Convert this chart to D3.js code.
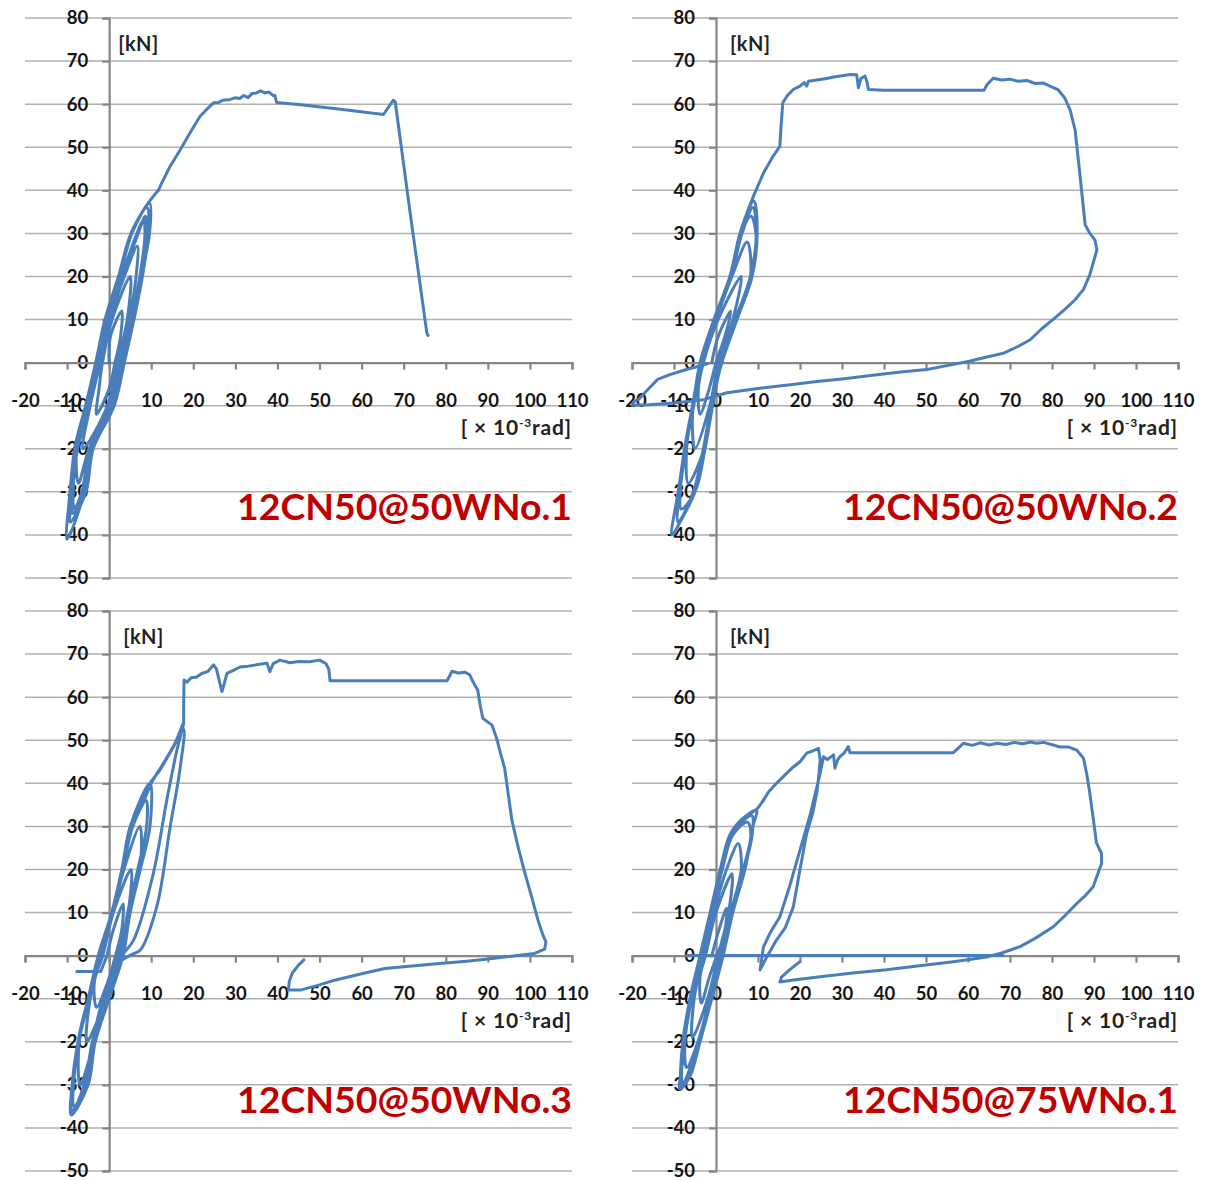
<!DOCTYPE html>
<html>
<head>
<meta charset="utf-8">
<script src="https://cdn.jsdelivr.net/npm/d3@7"></script>
<style>
body { margin: 0; background: #fff; }
svg { display: block; font-family: Lato, "Open Sans", sans-serif; }
</style>
</head>
<body>
<div id="chart"></div>
<script>
// axis ticks (rotation x 10^-3 rad, load kN)
var xTicks = [-20, -10, 0, 10, 20, 30, 40, 50, 60, 70, 80, 90, 100, 110];
var yTicks = [-50, -40, -30, -20, -10, 0, 10, 20, 30, 40, 50, 60, 70, 80];

var titles = ["12CN50@50WNo.1", "12CN50@50WNo.2", "12CN50@50WNo.3", "12CN50@75WNo.1"];

// 12CN50@50WNo.1  [rotation, load] - small cycles, then skeleton
var loopA = [
  [0,0],[0.3,6],[3,12],[2.7,6],[1.4,0],[0,-6],[-3,-12],
  [-2.4,-6],[-1.6,0],[0.7,10],[5,20],[4.3,10],[2,0],[-0.4,-10],[-6.2,-20],
  [-4.5,-10],[-2.1,0],[0.2,10],[3.6,20],[6.7,27],[6.4,20],[4.8,10],[2.5,0],[0.1,-10],[-4.8,-20],[-7.3,-28],
  [-7.7,-20],[-4.9,-10],[-2.5,0],[-0.2,10],[3,20],[6.6,30],[8.1,33],[8.5,30],[7.3,20],[5.2,10],[2.9,0],[0.5,-10],[-4.5,-20],[-6.5,-30],[-8.3,-34],
  [-8.5,-28],[-7.5,-20],[-4.6,-10],[-2.2,0],[0.1,10],[3.3,20],[6.9,30],[8.6,34],[9,30],[7.6,20],[5.6,10],[3.3,0],[0.9,-10],[-4.2,-20],[-6.2,-30],[-8.6,-35],
  [-9,-30],[-8.2,-20],[-5.6,-10],[-3.2,0],[-1,10],[2.2,20],[5.2,30],[9,36],[9.3,30],[7.9,20],[5.9,10],[3.6,0],[1.2,-10],[-3.8,-20],[-5.5,-30],[-9.2,-37],
  [-8.7,-30],[-7.9,-20],[-5.2,-10],[-2.8,0],[-0.5,10],[2.6,20],[5.4,30],[9.6,37],[9.6,30],[7.6,20],[5.5,10],[3.2,0],[0.8,-10],[-4.4,-20],[-5.9,-30],[-10,-41],
  [-9.3,-30],[-8.1,-20],[-5,-10],[-3,0],[0,10],[2.6,20],[5.2,30],[8.2,35.5],[10.5,38.6],[11.7,40]
];
var mainA = [
  [11.7,40],[12.5,41.7],[14.5,45.6],[16.9,49.4],[19.2,53.3],[21.6,57.2],[23,58.6],[24.8,60.3],[26,60.4],[27,60.9],[28.5,61],[30,61.5],[31,61.3],
  [32,62],[33,61.5],[34,62.5],[35,62.6],[36,63.1],[37,62.6],[38,62.8],[39,62],[39.4,62],[39.8,60.4],
  [45,59.9],[55,58.8],[65.2,57.6],[67.5,60.9],[68,60.5],[71.5,35],[75.5,6.9],[75.8,6.3]
];

// 12CN50@50WNo.2
var loopB = [
  [-1,0],[0.5,6],[3.5,12],[2.1,6],[0,0],[-1.6,-6],[-3.8,-12],
  [-4.2,-6],[-3,0],[0.5,10],[6,20],[4,10],[0.6,0],[-1.5,-10],[-5,-20],
  [-5.5,-10],[-3.4,0],[0,10],[3.8,20],[7.4,28],[8.2,20],[4.5,10],[1,0],[-1,-10],[-2.8,-20],[-6.6,-28],
  [-7,-20],[-5.5,-10],[-3.7,0],[-0.3,10],[3.5,20],[6,30],[8.3,34],[9.5,30],[8.5,20],[4.8,10],[1.3,0],[-0.8,-10],[-2.6,-20],[-5,-30],[-8.3,-34],
  [-8.5,-30],[-7.2,-20],[-5.3,-10],[-3.5,0],[-0.2,10],[3.6,20],[6.2,30],[8.8,36],
  [9.6,30],[8.2,20],[4.6,10],[1.1,0],[-1.2,-10],[-3,-20],[-5.4,-30],[-9,-37],
  [-8.8,-30],[-7.5,-20],[-5.6,-10],[-3.6,0],[-0.4,10],[3.4,20],[5.9,30],[9,37.5],
  [9.8,30],[8.6,20],[5,10],[1.4,0],[-1,-10],[-2.6,-20],[-5,-30],[-8,-36],[-10.5,-40],
  [-9,-30],[-7.4,-20],[-5.5,-10],[-3.8,0],[-0.5,10],[3.3,20],[5.7,30],[8.9,38.6]
];
var mainB = [
  [8.9,38.6],[11.3,44],[13.6,47.9],[15.2,50.2],[15.5,55],[15.9,60.3],[17,62],[18.4,63.4],[20,64.2],[21,65],[21.6,64.2],[22,65.3],[24,65.6],[26,65.9],
  [28,66.3],[30,66.6],[32,66.9],[33.5,66.8],[33.9,63.8],[34.5,66],[35.5,66.5],[36,65],[36.3,63.4],[40,63.2],[50,63.2],[63.8,63.2],
  [64.5,64.5],[66,66],[68,65.6],[70,65.8],[72,65.3],[74,65.5],[76,64.8],[78,64.9],[79.5,64.2],[81.4,63.4],[83,61.5],[84.3,58.7],
  [85.5,54],[86.5,45],[87.9,32],[89,30],[90.2,28.5],[90.7,26.2],
  [89,20.4],[87.5,17],[85.5,14.6],[83,12.3],[80.7,10.4],[77.5,7.8],[74.8,5.3],[72,3.8],[68.5,2.2],[64,1.2],[60.3,0.3],[55,-0.7],
  [50.2,-1.6],[44,-2.2],[38.3,-2.8],[30,-3.8],[24,-4.4],[18.2,-5.1],[10,-6],[2.6,-7],[-3,-8.6],[-10,-9.4],[-16,-9.8],[-20,-9.9],
  [-19.5,-9],[-18.5,-8.6],[-16,-6],[-13.9,-3.9],[-11,-2.8],[-8.4,-2],[-6,-1.3],[-3.8,-0.8],[-2,-0.2]
];

// 12CN50@50WNo.3
var startC = [[-7.7,-3.7],[-2,-3.7],[-0.5,0]];
var loopC = [
  [-0.5,0],[1,6],[3.3,12],[3,6],[1.5,0],[-0.3,-6],[-3,-12],
  [-3.5,-6],[-1.5,0],[1,10],[5.2,20],[4.5,10],[2,0],[-0.8,-10],[-5.3,-20],
  [-4.5,-10],[-2,0],[0.8,10],[3.5,20],[7.3,30],[7.3,20],[4.6,10],[2.8,0],[-0.2,-10],[-3.5,-20],[-6.9,-30],
  [-7.1,-20],[-4.7,-10],[-2.3,0],[0.9,10],[3.3,20],[5.6,30],[8.8,36],[8.9,30],[6.8,20],[4.4,10],[2.6,0],[-0.6,-10],[-3.8,-20],[-5.6,-30],[-8.3,-35],
  [-7.4,-20],[-5,-10],[-2.6,0],[0.6,10],[3,20],[5,30],[9.7,40],[9.7,30],[7.4,20],[5,10],[3.3,0],[0,-10],[-3.3,-20],[-5,-30],[-9,-37],
  [-8.8,-30],[-7.4,-20],[-5,-10],[-2.6,0],[0.6,10],[3,20],[5,30],[8,36],[9.7,40],[12,43],[15.3,48.5],[17.7,52.5],
  [16.9,43.8],[14.5,29.9],[11.3,11.3],[7.4,1.3],[5,0.1],[2,-2],[-1,-10],[-3.5,-20],[-5.5,-30],[-8.8,-36],
  [-8.6,-30],[-7.2,-20],[-4.8,-10],[-2.4,0],[0.8,10],[3.2,20],[5.3,30],[8.3,36],[10,40],[12.5,44],[15.5,49],[17.7,54],
  [16.1,47.7],[13.7,36.1],[10.5,19.1],[5.8,3.6],[3.4,0.5],[1,-3],[-1.5,-10],[-4,-20],[-6,-30],[-9,-37],
  [-8.8,-30],[-7.4,-20],[-5,-10],[-2.6,0],[0.6,10],[3,20],[5,30],[8,36],[10,40],[12.5,44],[15.5,49],[17.7,54]
];
var mainC = [
  [17.7,54],[17.7,58],[17.8,64],
  [18.5,63.5],[19.5,64.5],[20.8,64.7],[22,65.5],[23.5,66],[24.8,67.5],[25.5,66.5],[26.8,61.3],[27.3,63],[28,65.5],[29.5,66.2],
  [31.1,67],[33,67.2],[35,67.5],[37.5,67.9],[38.2,65.9],[39,67.8],[40.6,68.6],[43,68],[45,68.3],[47.7,68.2],[50,68.6],[51.5,67.8],
  [52.2,66.5],[52.5,63.8],[60,63.8],[70,63.8],[80.3,63.8],[81.5,66],[83,65.6],[84.5,65.8],[85.7,65.2],[86.5,63.5],[87.6,61.6],
  [88.2,58],[88.8,55.1],[90,54.2],[91,53.5],[92.2,50.1],[93,47],[94,43.5],[95.7,31.5],[97,26],[98.6,19.9],[100.3,14],[101.9,8.3],
  [103,5],[103.8,3.2],[103.5,1.5],[101.1,0.5],[95,-0.2],[90,-0.8],[85,-1.3],[79.2,-1.8],[72,-2.4],[65.5,-3],[60,-4.2],[53.6,-5.7],
  [50,-6.8],[45.4,-8],[42.6,-8],[42.8,-6],[43.5,-4.1],[45,-2.2],[46.3,-1]
];

// 12CN50@75WNo.1
var loopD = [
  [-1,0],[0.4,5],[2.5,11],[2,5],[0.2,0],[-1.6,-5],[-3.5,-11],
  [-3.8,-5],[-2.5,0],[0,10],[3.8,19],[3,10],[0.5,0],[-2,-10],[-5.6,-19],
  [-5.2,-10],[-3,0],[-0.5,10],[2.5,20],[5.3,26],[6,20],[3.5,10],[1.2,0],[-1.5,-10],[-4.3,-20],[-7,-26],
  [-7.4,-20],[-5.8,-10],[-3.5,0],[-1,10],[1.5,20],[4,28],[7.5,31],[8.3,28],[6.5,20],[3.8,10],[1.5,0],[-1.2,-10],[-4,-20],[-6.5,-27],[-8,-30],
  [-7.7,-20],[-6,-10],[-3.6,0],[-1.2,10],[1.3,20],[3.6,28],[8.5,32.5],[8.6,28],[6.7,20],[3.9,10],[1.6,0],[-1.1,-10],[-3.9,-20],[-6.3,-27],[-8.3,-30.5],
  [-7.9,-20],[-6.2,-10],[-3.8,0],[-1.4,10],[1,20],[3.3,28],[6,31.5],[9.7,33.8],
  [8.8,30],[6.9,20],[4,10],[1.7,0],[-1,-10],[-3.8,-20],[-6.2,-28],[-8.6,-31],
  [-8,-25],[-7.5,-20],[-5.9,-10],[-3.4,0],[-1,10],[1.5,20],[3.8,28],[6.5,31.8],[9.7,34],[11.3,36.1]
];
var mainD = [
  [11.3,36.1],[12.5,38],[14.4,40],[16.5,42],[18.4,43.8],[20,45],[21.6,47],[23,47.5],[24.4,48.1],[24.8,45.4],[24.5,42],[24,37.7],
  [23,33],[21.6,28.4],[20,20],[18.4,11.3],[16.5,6.5],[14.4,3.6],[12.1,-0.3],[10.5,-3.3],[11.3,2],[13,5.5],[15.2,9],[17.5,16],
  [20,24.5],[22.5,33],[24.8,42.3],[25.6,46.2],[26.5,45.5],[28,46.6],[28.3,43.5],[29,45.5],[29.5,46.2],[30.5,47],[31.5,48.5],
  [31.9,47.1],[40,47.1],[50,47.1],[56.5,47.1],[57.5,48],[58.9,49.3],[61,48.8],[62.9,49.4],[65,48.9],[67,49.3],[69,49],[71,49.5],
  [73,49.2],[75,49.6],[76.3,49.3],[78,49.5],[80.3,48.9],[82,48.4],[84,48.4],[85.9,47.7],[87.5,45.8],[88.3,42],[89,37.7],[89.8,32],
  [90.6,26.1],[91.8,23.7],[91.8,21.4],[89.8,16],[88,14],[85.9,12.1],[83,9.2],[80.3,6.7],[76,4],[72.4,2.1],[68,0.6],[64.5,-0.3],
  [56.5,-1.4],[48,-2.4],[40.6,-3.3],[32,-4.1],[24.8,-4.9],[18,-5.7],[15.2,-6.1],[15.6,-5],[17.5,-3.3],[20,-1.4]
];
var flatD = [[-7,0],[68.3,0]];

var W = 1205, H = 1180;

var svg = d3.select("#chart").append("svg")
    .attr("width", W)
    .attr("height", H);

// panel frames
var frames = [
  {left: 25,  right: 572,  top: 18,  bottom: 578,  kx: 9},
  {left: 632, right: 1178, top: 18,  bottom: 578,  kx: 14},
  {left: 25,  right: 572,  top: 611, bottom: 1171, kx: 14},
  {left: 632, right: 1178, top: 611, bottom: 1171, kx: 14}
];
// smooth = hysteresis cycles, straight = recorded skeleton
var smooth = [[loopA], [loopB], [loopC], [loopD]];
var straight = [[mainA], [mainB], [startC, mainC], [mainD, flatD]];

var axisColor = "#868686",
    gridColor = "#b0b0b0",
    lineColor = "#4a7ebb";

function drawPanel(f, title, curved, plain) {
    var x = d3.scaleLinear().domain([-20, 110]).range([f.left, f.right]);
    var y = d3.scaleLinear().domain([-50, 80]).range([f.bottom, f.top]);

    var g = svg.append("g");

    // gridlines
    g.append("g").selectAll("line")
        .data(yTicks.filter(function(d) { return d !== 0; }))
        .enter().append("line")
        .attr("x1", x(-20)).attr("x2", x(110))
        .attr("y1", function(d) { return y(d); })
        .attr("y2", function(d) { return y(d); })
        .style("stroke", gridColor)
        .style("stroke-width", 1.5);

    var yAxis = g.append("g")
        .attr("transform", "translate(" + x(0) + ",0)")
        .call(d3.axisLeft(y).tickValues(yTicks).tickSize(7).tickSizeOuter(7).tickPadding(14)
            .tickFormat(function(d) { return String(d); }));

    var xAxis = g.append("g")
        .attr("transform", "translate(0," + y(0) + ")")
        .call(d3.axisBottom(x).tickValues(xTicks).tickSize(7).tickSizeOuter(7).tickPadding(24)
            .tickFormat(function(d) { return String(d); }));

    [xAxis, yAxis].forEach(function(a) {
        a.selectAll("path, line").style("stroke", axisColor).style("stroke-width", 2.2);
        a.selectAll("text")
            .style("font-family", "Lato, 'Open Sans', sans-serif")
            .style("font-size", "18.5px")
            .style("font-weight", "700")
            .style("fill", "#141414");
    });

    // data
    var lineCurve = d3.line()
        .curve(d3.curveCatmullRom.alpha(0.5))
        .x(function(d) { return x(d[0]); })
        .y(function(d) { return y(d[1]); });
    var lineStraight = d3.line()
        .x(function(d) { return x(d[0]); })
        .y(function(d) { return y(d[1]); });

    function addPaths(list, gen) {
        g.append("g").selectAll("path")
            .data(list)
            .enter().append("path")
            .attr("d", gen)
            .style("fill", "none")
            .style("stroke", lineColor)
            .style("stroke-width", 3)
            .style("stroke-linejoin", "round")
            .style("stroke-linecap", "round");
    }
    addPaths(curved, lineCurve);
    addPaths(plain, lineStraight);

    // unit labels
    g.append("text")
        .attr("x", x(0) + f.kx)
        .attr("y", y(80) + 33)
        .style("font-size", "20px")
        .style("font-weight", "700")
        .style("letter-spacing", "0.5px")
        .style("fill", "#222")
        .text("[kN]");

    var ux = g.append("text")
        .attr("x", x(110))
        .attr("y", y(0) + 72)
        .attr("text-anchor", "end")
        .style("font-size", "21px")
        .style("font-weight", "700")
        .style("letter-spacing", "0.8px")
        .style("fill", "#222");
    ux.append("tspan").text("[ \u00d7 10");
    ux.append("tspan").attr("dy", -8).style("font-size", "12px").text("-3");
    ux.append("tspan").attr("dy", 8).text("rad]");

    g.append("text")
        .attr("x", x(110))
        .attr("y", y(0) + 157)
        .attr("text-anchor", "end")
        .attr("textLength", 335)
        .attr("lengthAdjust", "spacingAndGlyphs")
        .style("font-size", "37px")
        .style("font-weight", "700")
        .style("fill", "#c00000")
        .text(title);
}

frames.forEach(function(f, i) {
    drawPanel(f, titles[i], smooth[i], straight[i]);
});
</script>
</body>
</html>
